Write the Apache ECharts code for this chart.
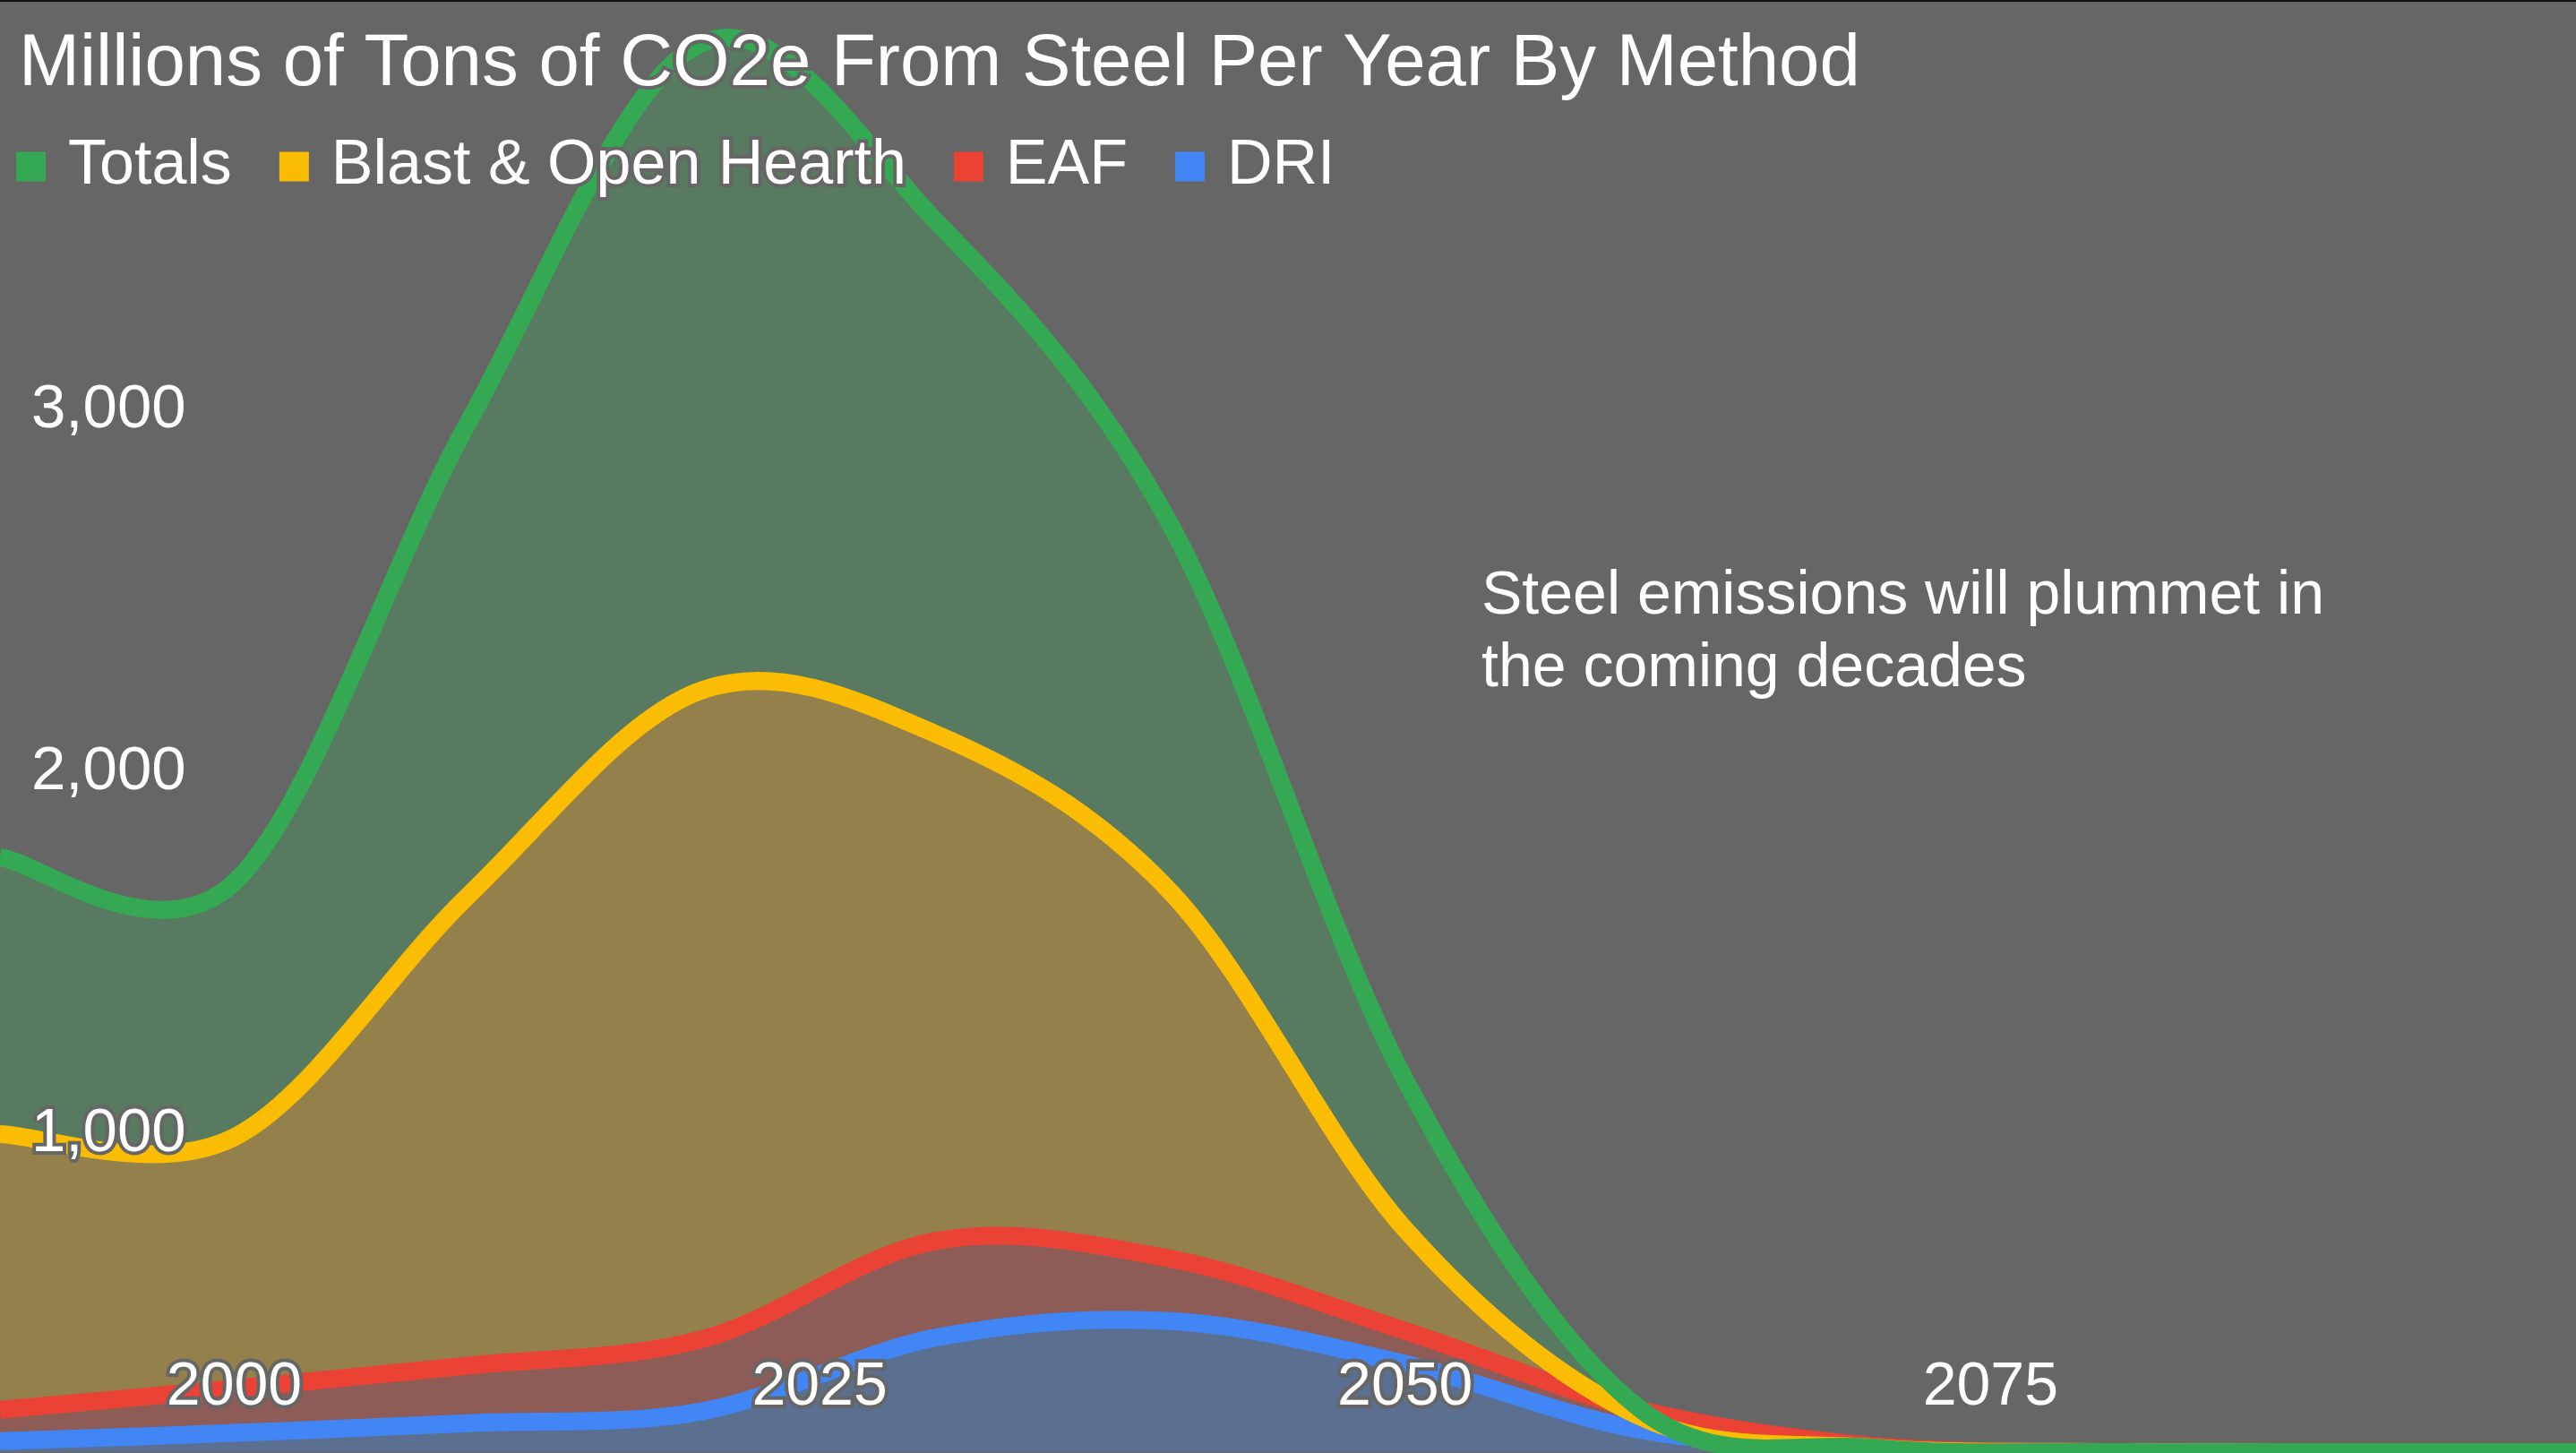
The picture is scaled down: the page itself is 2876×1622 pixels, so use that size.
<!DOCTYPE html>
<html>
<head>
<meta charset="utf-8">
<script src="https://cdn.jsdelivr.net/npm/echarts@6/dist/echarts.min.js"></script>
<style>
  html, body { margin: 0; padding: 0; background: #666666; }
  #chart { width: 2876px; height: 1622px; }
</style>
</head>
<body>
<div id="chart"></div>
<script>
// ---- data ----
const years  = [1990, 2000, 2010, 2020, 2030, 2040, 2050, 2060, 2070, 2080, 2090, 2100];
const totals = [1643, 1574, 2846, 3894, 3399, 2560, 1029, 121, 12, 0, 0, 0];
const blast  = [879, 870, 1538, 2106, 1983, 1547, 616, 99, 12, 0, 0, 0];
const eaf    = [117, 176, 239, 312, 584, 534, 335, 117, 17, 0, 0, 0];
const dri    = [30, 53, 80, 113, 317, 362, 244, 62, 8, 0, 0, 0];
const xTickLabels = [2000, 2025, 2050, 2075];
const seriesNames = ['Totals', 'Blast & Open Hearth', 'EAF', 'DRI'];
const titleText = 'Millions of Tons of CO2e From Steel Per Year By Method';
const noteText = 'Steel emissions will plummet in\nthe coming decades';

const FONT = '"Liberation Sans", Arial, sans-serif';
const BG = '#666666';
const lineColors = ['#34A853', '#FBBC04', '#EA4335', '#4285F4'];
const areaColors = ['#577A60', '#93804A', '#8E5C57', '#5B6F91'];
const values = [totals, blast, eaf, dri];
const SMOOTH_K = 1 / 6; // curve tension (Catmull-Rom style, like a "function" curve)

function pairs(arr) { return years.map((y, i) => [y, arr[i]]); }

// Smooth path through the data points, positioned by the chart's own axes (api.coord)
function curvePath(api, vals, closeToBase) {
  const pts = years.map((y, i) => api.coord([y, vals[i]]));
  const f = n => n.toFixed(2);
  let d = 'M' + f(pts[0][0]) + ' ' + f(pts[0][1]);
  for (let i = 0; i < pts.length - 1; i++) {
    const p0 = pts[i - 1] || pts[i];
    const p1 = pts[i];
    const p2 = pts[i + 1];
    const p3 = pts[i + 2] || pts[i + 1];
    const c1x = p1[0] + (p2[0] - p0[0]) * SMOOTH_K;
    const c1y = p1[1] + (p2[1] - p0[1]) * SMOOTH_K;
    const c2x = p2[0] - (p3[0] - p1[0]) * SMOOTH_K;
    const c2y = p2[1] - (p3[1] - p1[1]) * SMOOTH_K;
    d += ' C' + f(c1x) + ' ' + f(c1y) + ' ' + f(c2x) + ' ' + f(c2y) + ' ' + f(p2[0]) + ' ' + f(p2[1]);
  }
  if (closeToBase) {
    const bEnd = api.coord([years[years.length - 1], 0]);
    const bStart = api.coord([years[0], 0]);
    d += ' L' + f(bEnd[0]) + ' ' + f(bEnd[1]) + ' L' + f(bStart[0]) + ' ' + f(bStart[1]) + ' Z';
  }
  return d;
}

const series = [];
// areas (back to front): Totals, Blast, EAF, DRI
for (let i = 0; i < 4; i++) {
  const vals = values[i];
  series.push({
    name: seriesNames[i], type: 'custom', data: pairs(vals), encode: { x: 0, y: 1 },
    itemStyle: { color: lineColors[i] }, clip: false, z: 2, silent: true,
    renderItem: (params, api) => {
      if (params.dataIndex !== 0) return null;
      return { type: 'path', shape: { pathData: curvePath(api, vals, true) },
        style: { fill: areaColors[i], stroke: null } };
    }
  });
}
// lines (bottom to top): DRI, EAF, Blast, Totals
for (let i = 3; i >= 0; i--) {
  const vals = values[i];
  series.push({
    name: seriesNames[i], type: 'custom', data: pairs(vals), encode: { x: 0, y: 1 },
    itemStyle: { color: lineColors[i] }, clip: false, z: 3, silent: true,
    renderItem: (params, api) => {
      if (params.dataIndex !== 0) return null;
      return { type: 'path', shape: { pathData: curvePath(api, vals, false) },
        style: { fill: null, stroke: lineColors[i], lineWidth: 20, lineJoin: 'round' } };
    }
  });
}

const chart = echarts.init(document.getElementById('chart'), null, { renderer: 'canvas' });
chart.setOption({
  animation: false,
  backgroundColor: BG,
  title: {
    text: titleText, left: 21, top: 31, padding: 0, z: 10,
    textStyle: { color: '#ffffff', fontFamily: FONT, fontSize: 81.6, fontWeight: 'normal',
      lineHeight: 82, textBorderColor: BG, textBorderWidth: 8 }
  },
  legend: {
    data: seriesNames, left: 18, top: 147, padding: 0, icon: 'rect',
    itemWidth: 33, itemHeight: 33, itemGap: 49, selectedMode: false, z: 10,
    textStyle: { color: '#ffffff', fontFamily: FONT, fontSize: 70, lineHeight: 70,
      padding: [0, 0, 0, 20], textBorderColor: BG, textBorderWidth: 8 }
  },
  grid: { left: 0, right: 0, top: 5, bottom: 1, containLabel: false },
  xAxis: {
    type: 'value', min: 1990, max: 2100, z: 10,
    axisLine: { show: false }, axisTick: { show: false }, splitLine: { show: false },
    axisLabel: {
      inside: true, margin: 72, verticalAlign: 'middle',
      customValues: xTickLabels,
      color: '#ffffff', fontFamily: FONT, fontSize: 68,
      textBorderColor: BG, textBorderWidth: 8,
      formatter: v => String(v)
    }
  },
  yAxis: {
    type: 'value', min: 0, max: 4000, interval: 1000, z: 10,
    axisLine: { show: false }, axisTick: { show: false }, splitLine: { show: false },
    axisLabel: {
      inside: true, margin: 35, verticalAlign: 'top', lineHeight: 98,
      showMinLabel: false, showMaxLabel: false,
      color: '#ffffff', fontFamily: FONT, fontSize: 69,
      textBorderColor: BG, textBorderWidth: 8,
      formatter: v => v.toLocaleString('en-US')
    }
  },
  graphic: [
    { type: 'text', left: 1654, top: 626, z: 20,
      style: { text: noteText, fill: '#ffffff', font: '68px ' + FONT, lineHeight: 81 } },
    { type: 'rect', left: 0, top: 0, z: 30, shape: { width: 2876, height: 2 }, style: { fill: '#111111' } }
  ],
  series: series
});
</script>
</body>
</html>
